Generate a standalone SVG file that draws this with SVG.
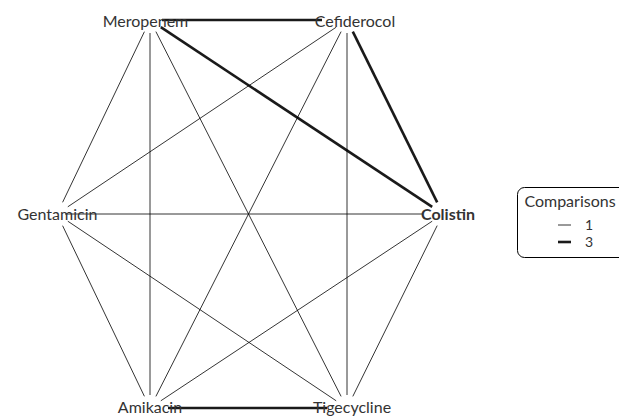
<svg xmlns="http://www.w3.org/2000/svg" width="619" height="416" viewBox="0 0 619 416">
<style>
.e{stroke:#000;stroke-width:0.8;fill:none}
.t{stroke:#1a1a1a;stroke-width:2.6;fill:none}
.lbl{font-family:Lato,"Liberation Sans",sans-serif;font-size:16px;fill:#333;text-anchor:middle}
.num{font-size:14px}
.b{font-weight:bold}
</style>
<rect width="619" height="416" fill="#fff"/>
<g id="connectors">
<line class="e" x1="144.4" y1="31.7" x2="62.6" y2="202.3"/>
<line class="e" x1="150" y1="33" x2="150" y2="395"/>
<line class="e" x1="155.9" y1="31.6" x2="341.1" y2="396.4"/>
<line class="t" x1="160.8" y1="27.2" x2="432.2" y2="206.8"/>
<line class="t" x1="162" y1="20" x2="322" y2="20"/>
<line class="e" x1="336.2" y1="27.2" x2="67.8" y2="206.8"/>
<line class="e" x1="341.1" y1="31.6" x2="155.9" y2="396.4"/>
<line class="e" x1="347" y1="33" x2="347" y2="395"/>
<line class="t" x1="352.8" y1="31.6" x2="437.2" y2="202.4"/>
<line class="e" x1="65" y1="214" x2="423" y2="214"/>
<line class="e" x1="62.6" y1="225.7" x2="144.4" y2="396.3"/>
<line class="e" x1="67.8" y1="221.2" x2="336.2" y2="400.8"/>
<line class="e" x1="432.2" y1="221.2" x2="160.8" y2="400.8"/>
<line class="e" x1="437.2" y1="225.6" x2="352.8" y2="396.4"/>
<line class="t" x1="168" y1="408" x2="327" y2="408"/>
</g>
<g id="node-meropenem"><text class="lbl" x="145.5" y="27">Meropenem</text></g>
<g id="node-cefiderocol"><text class="lbl" x="355" y="27">Cefiderocol</text></g>
<g id="node-gentamicin"><text class="lbl" x="57.5" y="220">Gentamicin</text></g>
<g id="node-colistin"><text class="lbl b" x="448" y="220">Colistin</text></g>
<g id="node-amikacin"><text class="lbl" x="150" y="413">Amikacin</text></g>
<g id="node-tigecycline"><text class="lbl" x="352" y="413">Tigecycline</text></g>
<g id="legend">
<rect x="517.5" y="187.5" width="115" height="70" rx="7" fill="#fff" stroke="#000" stroke-width="1"/>
<text class="lbl" x="570" y="207">Comparisons</text>
<line x1="558" y1="225" x2="571" y2="225" stroke="#000" stroke-width="0.8"/>
<text class="lbl num" x="589" y="230">1</text>
<line x1="558" y1="242" x2="571" y2="242" stroke="#1a1a1a" stroke-width="2.6"/>
<text class="lbl num" x="589" y="247">3</text>
</g>
</svg>
